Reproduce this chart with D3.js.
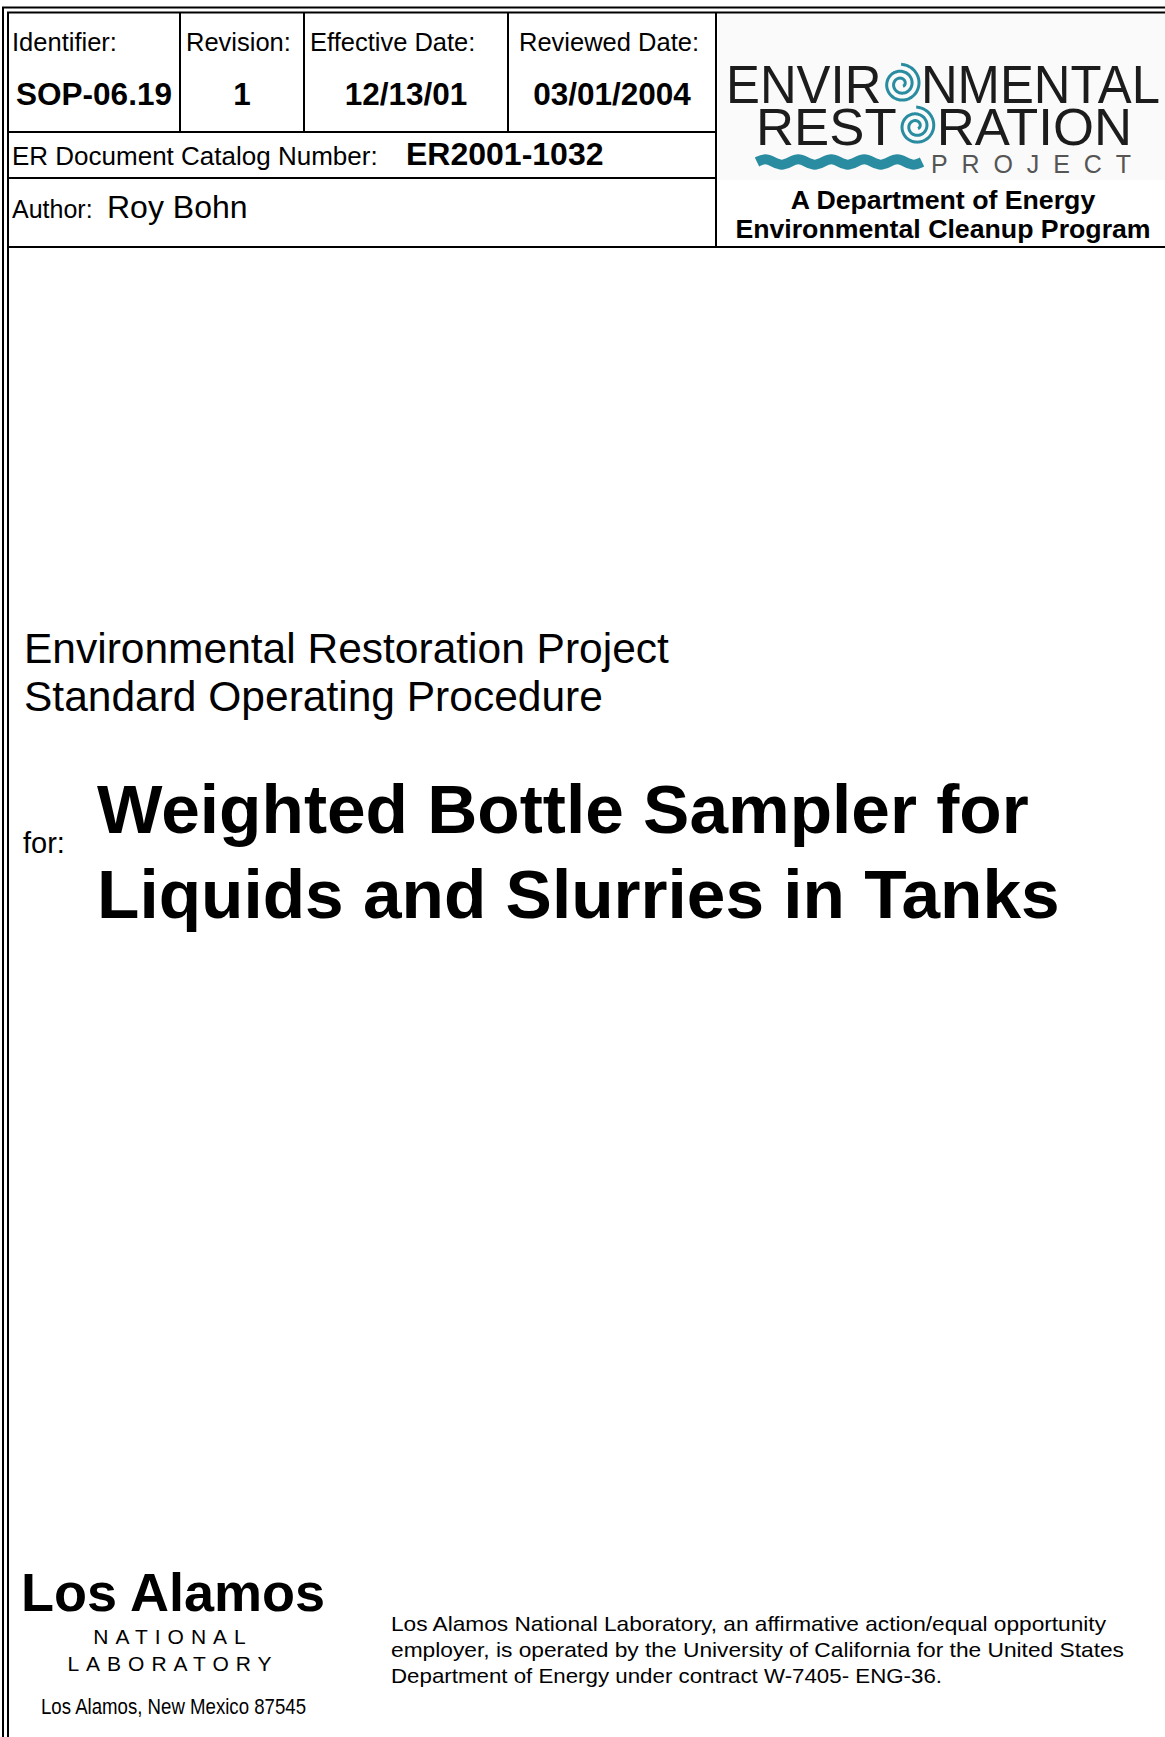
<!DOCTYPE html>
<html>
<head>
<meta charset="utf-8">
<script src="https://cdn.jsdelivr.net/npm/d3@7"></script>
<style>
body { margin: 0; background: #fff; }
text { font-family: "Liberation Sans", Arial, Helvetica, sans-serif; fill: #000; }
</style>
</head>
<body>
<script>
// cover page content
var headerLabels = ["Identifier:", "Revision:", "Effective Date:", "Reviewed Date:"];
var headerValues = ["SOP-06.19", "1", "12/13/01", "03/01/2004"];
var catalogRow = ["ER Document Catalog Number:", "ER2001-1032"];
var authorRow = ["Author:", "Roy Bohn"];
var logoWords = ["ENVIRONMENTAL", "RESTORATION", "PROJECT"];
var logoCaption = ["A Department of Energy", "Environmental Cleanup Program"];
var projectLines = ["Environmental Restoration Project", "Standard Operating Procedure"];
var titleLines = ["Weighted Bottle Sampler for", "Liquids and Slurries in Tanks"];
var labLines = ["Los Alamos", "NATIONAL", "LABORATORY", "Los Alamos, New Mexico 87545"];
var disclaimerLines = [
  "Los Alamos National Laboratory, an affirmative action/equal opportunity",
  "employer, is operated by the University of California for the United States",
  "Department of Energy under contract W-7405- ENG-36."
];

var W = 1165, H = 1737;
var teal = "#2a8ca0";

var svg = d3.select("body").append("svg")
  .attr("xmlns", "http://www.w3.org/2000/svg")
  .attr("width", W)
  .attr("height", H);

// page frame (double line on top and left)
var frame = svg.append("g").attr("stroke", "#000").attr("fill", "none");
frame.append("path").attr("d", "M3," + H + "V7.5H" + W).attr("stroke-width", 2);
frame.append("path").attr("d", "M8," + H + "V12.5H" + W).attr("stroke-width", 2);

// header table
var colEdges = [8, 180, 304, 508, 716];
var rowY = [12.5, 132, 178, 247];
var grid = svg.append("g").attr("stroke", "#000").attr("stroke-width", 2);
grid.selectAll("line.v").data(colEdges.slice(1)).enter().append("line")
  .attr("x1", function(d) { return d; }).attr("x2", function(d) { return d; })
  .attr("y1", rowY[0])
  .attr("y2", function(d, i) { return i == 3 ? rowY[3] : rowY[1]; });
grid.selectAll("line.h").data(rowY.slice(1)).enter().append("line")
  .attr("x1", colEdges[0])
  .attr("x2", function(d, i) { return i == 2 ? W : colEdges[4]; })
  .attr("y1", function(d) { return d; }).attr("y2", function(d) { return d; });

var labelX = [12, 186, 310, 519];
svg.selectAll("text.hl").data(headerLabels).enter().append("text")
  .attr("class", "hl")
  .attr("x", function(d, i) { return labelX[i]; })
  .attr("y", 51)
  .attr("font-size", 25.5)
  .text(function(d) { return d; });

svg.selectAll("text.hv").data(headerValues).enter().append("text")
  .attr("class", "hv")
  .attr("x", function(d, i) { return (colEdges[i] + colEdges[i + 1]) / 2; })
  .attr("y", 105)
  .attr("text-anchor", "middle")
  .attr("font-size", 31.5)
  .attr("font-weight", "bold")
  .text(function(d) { return d; });

svg.append("text").attr("x", 12).attr("y", 165).attr("font-size", 26)
  .text(catalogRow[0]);
svg.append("text").attr("x", 406).attr("y", 165).attr("font-size", 32)
  .attr("font-weight", "bold").text(catalogRow[1]);

svg.append("text").attr("x", 12).attr("y", 218).attr("font-size", 25)
  .text(authorRow[0]);
svg.append("text").attr("x", 107).attr("y", 218).attr("font-size", 32)
  .text(authorRow[1]);

// logo
var logo = svg.append("g");
logo.append("rect").attr("x", 718).attr("y", 14).attr("width", W - 718).attr("height", 166)
  .attr("fill", "#fafafa");

function spiral(cx, cy, r) {
  var turns = 2.4, pts = d3.range(0, turns * 2 * Math.PI, 0.08);
  var line = d3.lineRadial()
    .angle(function(a) { return a; })
    .radius(function(a) { return r * (1 - a / (turns * 2 * Math.PI) * 0.85); })
    .curve(d3.curveBasis);
  logo.append("path").attr("d", line(pts))
    .attr("transform", "translate(" + cx + "," + cy + ")")
    .attr("fill", "none").attr("stroke", teal).attr("stroke-width", 3);
}

function logoWord(word, oIndex, x, y, size, len) {
  var t = logo.append("text")
    .attr("x", x).attr("y", y)
    .attr("font-family", "Lato, 'Open Sans', sans-serif")
    .attr("font-weight", 300)
    .attr("font-size", size)
    .attr("textLength", len)
    .attr("lengthAdjust", "spacingAndGlyphs")
    .style("fill", "#1c1c1c");
  t.append("tspan").text(word.slice(0, oIndex));
  t.append("tspan").style("fill", "none").text("O");
  t.append("tspan").text(word.slice(oIndex + 1));
  var box = t.node().getExtentOfChar(oIndex);
  spiral(box.x + box.width / 2, y - size * 0.36, size * 0.37);
}
logoWord(logoWords[0], 5, 726, 103, 53, 434);
logoWord(logoWords[1], 4, 756, 145, 52, 376);

// wave under RESTORATION
var wave = d3.range(0, 5.01, 0.25).map(function(k) {
  var q = Math.round(k * 4) % 4;
  return [757 + k * 33, 162 + (q == 1 ? -4 : q == 3 ? 4 : 0)];
});
logo.append("path").attr("d", d3.line().curve(d3.curveBasis)(wave))
  .attr("fill", "none").attr("stroke", teal).attr("stroke-width", 10);

logo.append("text").attr("x", 931).attr("y", 173)
  .attr("font-family", "Lato, 'Open Sans', sans-serif")
  .attr("font-size", 25)
  .attr("textLength", 200).attr("lengthAdjust", "spacing")
  .style("fill", "#555").text(logoWords[2]);

svg.selectAll("text.cap").data(logoCaption).enter().append("text")
  .attr("class", "cap")
  .attr("x", 943)
  .attr("y", function(d, i) { return 209 + i * 29; })
  .attr("text-anchor", "middle")
  .attr("font-size", 26.7)
  .attr("font-weight", "bold")
  .text(function(d) { return d; });

// middle block
svg.selectAll("text.proj").data(projectLines).enter().append("text")
  .attr("class", "proj")
  .attr("x", 24)
  .attr("y", function(d, i) { return 663 + i * 48; })
  .attr("font-size", 42.5)
  .text(function(d) { return d; });

svg.append("text").attr("x", 23).attr("y", 853).attr("font-size", 29).text("for:");

svg.selectAll("text.title").data(titleLines).enter().append("text")
  .attr("class", "title")
  .attr("x", 97)
  .attr("y", function(d, i) { return 833 + i * 85; })
  .attr("font-size", 69.4)
  .attr("font-weight", "bold")
  .text(function(d) { return d; });

// footer
var lab = [
  { size: 54, y: 1611, weight: "bold", spacing: 0 },
  { size: 21, y: 1644, weight: "normal", spacing: 7 },
  { size: 21, y: 1671, weight: "normal", spacing: 7 },
  { size: 22, y: 1714, weight: "normal", spacing: 0 }
];
svg.selectAll("text.lab").data(labLines).enter().append("text")
  .attr("class", "lab")
  .attr("x", function(d, i) { return i == 3 ? 41 : 173; })
  .attr("y", function(d, i) { return lab[i].y; })
  .attr("text-anchor", function(d, i) { return i == 3 ? "start" : "middle"; })
  .attr("font-size", function(d, i) { return lab[i].size; })
  .attr("font-weight", function(d, i) { return lab[i].weight; })
  .attr("letter-spacing", function(d, i) { return lab[i].spacing; })
  .attr("textLength", function(d, i) { return i == 3 ? 265 : null; })
  .attr("lengthAdjust", "spacingAndGlyphs")
  .text(function(d) { return d; });

var discLen = [715, 733, 551];
svg.selectAll("text.disc").data(disclaimerLines).enter().append("text")
  .attr("class", "disc")
  .attr("x", 391)
  .attr("y", function(d, i) { return 1631 + i * 26; })
  .attr("font-size", 21)
  .attr("textLength", function(d, i) { return discLen[i]; })
  .attr("lengthAdjust", "spacingAndGlyphs")
  .text(function(d) { return d; });
</script>
</body>
</html>
